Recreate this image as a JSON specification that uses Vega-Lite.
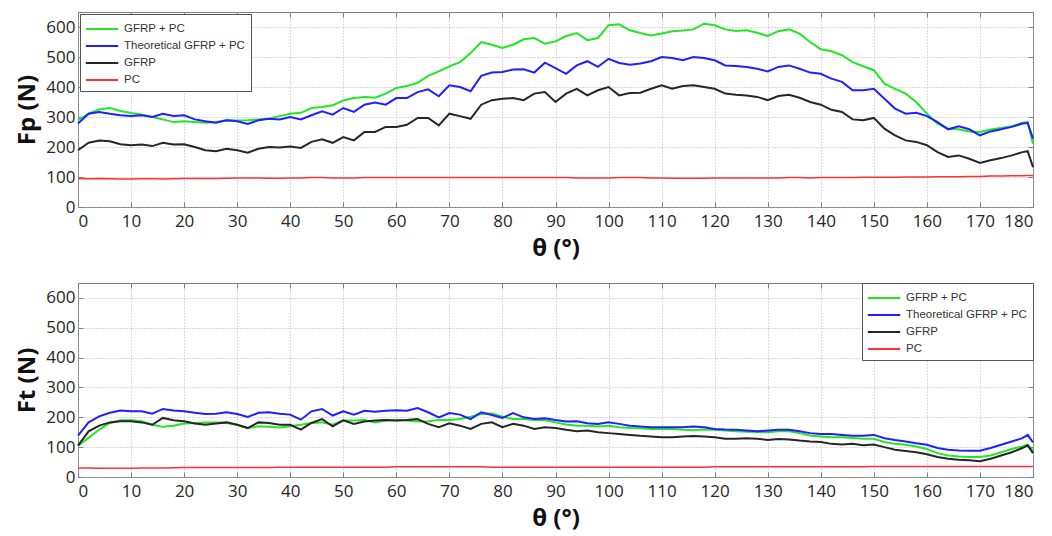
{
  "$schema": "https://vega.github.io/schema/vega-lite/v6.json",
  "background": "white",
  "padding": {"left": 15, "top": 11, "right": 10, "bottom": 2},
  "spacing": 21,
  "config": {
    "view": {"stroke": "#7f7f7f", "strokeWidth": 1},
    "axis": {
      "labelFont": "Open Sans", "labelFontSize": 17, "labelColor": "#262626",
      "titleFont": "Open Sans", "titleFontSize": 24, "titleFontWeight": "bold", "titleColor": "#111111",
      "gridColor": "#b4b4b4", "gridDash": [1, 2], "gridWidth": 1,
      "domain": false, "tickColor": "#7f7f7f", "tickSize": -5
    },
    "axisX": {"labelPadding": 11},
    "axisY": {"labelPadding": 8},
    "legend": {
      "strokeColor": "#555555", "fillColor": "white", "padding": 5,
      "symbolType": "M-1.8,0H1.8", "symbolSize": 324, "symbolStrokeWidth": 2, "symbolOffset": 7,
      "labelOffset": 12, "labelFont": "Liberation Sans", "labelFontSize": 11.5, "labelColor": "#333333",
      "rowPadding": 1, "title": null
    }
  },
  "datasets": {
    "top": [
      {"x":0,"g":290,"t":278,"b":189,"p":95},{"x":2,"g":311,"t":311,"b":214,"p":94},{"x":4,"g":325,"t":317,"b":222,"p":95},{"x":6,"g":330,"t":311,"b":219,"p":94},{"x":8,"g":320,"t":306,"b":209,"p":93},{"x":10,"g":313,"t":303,"b":206,"p":93},{"x":12,"g":308,"t":306,"b":208,"p":94},{"x":14,"g":300,"t":300,"b":203,"p":94},{"x":16,"g":292,"t":311,"b":214,"p":93},{"x":18,"g":283,"t":303,"b":208,"p":94},{"x":20,"g":286,"t":306,"b":209,"p":95},{"x":22,"g":283,"t":292,"b":200,"p":95},{"x":24,"g":281,"t":286,"b":189,"p":95},{"x":26,"g":283,"t":281,"b":186,"p":95},{"x":28,"g":289,"t":289,"b":194,"p":96},{"x":30,"g":288,"t":286,"b":189,"p":97},{"x":32,"g":289,"t":277,"b":181,"p":97},{"x":34,"g":292,"t":289,"b":194,"p":97},{"x":36,"g":294,"t":294,"b":200,"p":96},{"x":38,"g":303,"t":292,"b":198,"p":96},{"x":40,"g":311,"t":300,"b":202,"p":97},{"x":42,"g":314,"t":292,"b":197,"p":97},{"x":44,"g":330,"t":306,"b":217,"p":98},{"x":46,"g":333,"t":319,"b":226,"p":98},{"x":48,"g":339,"t":308,"b":214,"p":97},{"x":50,"g":355,"t":330,"b":233,"p":97},{"x":52,"g":363,"t":317,"b":222,"p":97},{"x":54,"g":367,"t":341,"b":250,"p":98},{"x":56,"g":364,"t":348,"b":250,"p":98},{"x":58,"g":378,"t":341,"b":267,"p":98},{"x":60,"g":397,"t":363,"b":267,"p":98},{"x":62,"g":403,"t":363,"b":274,"p":98},{"x":64,"g":414,"t":383,"b":297,"p":98},{"x":66,"g":437,"t":392,"b":297,"p":98},{"x":68,"g":452,"t":369,"b":272,"p":98},{"x":70,"g":469,"t":406,"b":311,"p":98},{"x":72,"g":483,"t":400,"b":303,"p":98},{"x":74,"g":513,"t":386,"b":294,"p":98},{"x":76,"g":550,"t":437,"b":341,"p":98},{"x":78,"g":541,"t":448,"b":356,"p":98},{"x":80,"g":530,"t":450,"b":361,"p":98},{"x":82,"g":541,"t":458,"b":363,"p":98},{"x":84,"g":559,"t":459,"b":356,"p":98},{"x":86,"g":563,"t":448,"b":378,"p":98},{"x":88,"g":544,"t":481,"b":383,"p":98},{"x":90,"g":552,"t":463,"b":350,"p":98},{"x":92,"g":570,"t":444,"b":378,"p":98},{"x":94,"g":580,"t":472,"b":394,"p":97},{"x":96,"g":556,"t":486,"b":372,"p":97},{"x":98,"g":563,"t":467,"b":389,"p":97},{"x":100,"g":606,"t":494,"b":400,"p":97},{"x":102,"g":609,"t":480,"b":372,"p":98},{"x":104,"g":589,"t":474,"b":380,"p":98},{"x":106,"g":580,"t":478,"b":381,"p":98},{"x":108,"g":572,"t":486,"b":394,"p":97},{"x":110,"g":578,"t":500,"b":406,"p":97},{"x":112,"g":586,"t":497,"b":394,"p":96},{"x":114,"g":588,"t":489,"b":403,"p":96},{"x":116,"g":592,"t":500,"b":406,"p":96},{"x":118,"g":611,"t":497,"b":400,"p":96},{"x":120,"g":606,"t":489,"b":394,"p":97},{"x":122,"g":592,"t":472,"b":378,"p":97},{"x":124,"g":587,"t":470,"b":374,"p":97},{"x":126,"g":589,"t":467,"b":372,"p":97},{"x":128,"g":581,"t":461,"b":367,"p":97},{"x":130,"g":570,"t":452,"b":356,"p":97},{"x":132,"g":586,"t":467,"b":370,"p":97},{"x":134,"g":592,"t":472,"b":374,"p":98},{"x":136,"g":578,"t":461,"b":364,"p":98},{"x":138,"g":550,"t":448,"b":350,"p":97},{"x":140,"g":526,"t":444,"b":341,"p":98},{"x":142,"g":519,"t":428,"b":324,"p":98},{"x":144,"g":506,"t":417,"b":317,"p":98},{"x":146,"g":483,"t":389,"b":292,"p":98},{"x":148,"g":469,"t":389,"b":289,"p":99},{"x":150,"g":456,"t":394,"b":297,"p":99},{"x":152,"g":411,"t":361,"b":261,"p":99},{"x":154,"g":394,"t":328,"b":239,"p":99},{"x":156,"g":378,"t":311,"b":222,"p":100},{"x":158,"g":350,"t":314,"b":217,"p":100},{"x":160,"g":311,"t":303,"b":206,"p":100},{"x":162,"g":278,"t":283,"b":183,"p":101},{"x":164,"g":261,"t":259,"b":167,"p":101},{"x":166,"g":259,"t":269,"b":172,"p":101},{"x":168,"g":252,"t":259,"b":161,"p":102},{"x":170,"g":250,"t":239,"b":147,"p":102},{"x":172,"g":258,"t":252,"b":156,"p":103},{"x":174,"g":263,"t":259,"b":163,"p":103},{"x":176,"g":269,"t":267,"b":172,"p":104},{"x":178,"g":281,"t":278,"b":183,"p":104},{"x":179,"g":283,"t":280,"b":186,"p":105},{"x":180,"g":211,"t":228,"b":133,"p":105}
    ],
    "bottom": [
      {"x":0,"g":105,"t":139,"b":105,"p":30},{"x":2,"g":131,"t":183,"b":153,"p":30},{"x":4,"g":159,"t":203,"b":172,"p":29},{"x":6,"g":181,"t":215,"b":183,"p":29},{"x":8,"g":190,"t":223,"b":187,"p":29},{"x":10,"g":190,"t":220,"b":187,"p":29},{"x":12,"g":187,"t":220,"b":183,"p":30},{"x":14,"g":175,"t":212,"b":175,"p":30},{"x":16,"g":168,"t":228,"b":198,"p":30},{"x":18,"g":172,"t":223,"b":190,"p":31},{"x":20,"g":179,"t":220,"b":187,"p":32},{"x":22,"g":181,"t":215,"b":179,"p":32},{"x":24,"g":183,"t":211,"b":175,"p":32},{"x":26,"g":183,"t":212,"b":179,"p":32},{"x":28,"g":181,"t":217,"b":183,"p":32},{"x":30,"g":175,"t":211,"b":175,"p":32},{"x":32,"g":164,"t":201,"b":164,"p":32},{"x":34,"g":170,"t":215,"b":183,"p":32},{"x":36,"g":168,"t":217,"b":181,"p":32},{"x":38,"g":166,"t":212,"b":175,"p":33},{"x":40,"g":170,"t":209,"b":175,"p":33},{"x":42,"g":175,"t":192,"b":159,"p":33},{"x":44,"g":181,"t":220,"b":181,"p":33},{"x":46,"g":183,"t":228,"b":194,"p":33},{"x":48,"g":175,"t":206,"b":170,"p":33},{"x":50,"g":189,"t":220,"b":190,"p":33},{"x":52,"g":189,"t":209,"b":178,"p":33},{"x":54,"g":191,"t":222,"b":186,"p":33},{"x":56,"g":183,"t":219,"b":189,"p":33},{"x":58,"g":189,"t":222,"b":191,"p":33},{"x":60,"g":191,"t":224,"b":189,"p":34},{"x":62,"g":189,"t":222,"b":191,"p":34},{"x":64,"g":186,"t":231,"b":194,"p":34},{"x":66,"g":187,"t":217,"b":178,"p":34},{"x":68,"g":191,"t":200,"b":167,"p":34},{"x":70,"g":191,"t":214,"b":180,"p":34},{"x":72,"g":194,"t":209,"b":172,"p":34},{"x":74,"g":202,"t":194,"b":161,"p":34},{"x":76,"g":211,"t":217,"b":178,"p":34},{"x":78,"g":213,"t":208,"b":183,"p":33},{"x":80,"g":202,"t":198,"b":167,"p":33},{"x":82,"g":194,"t":214,"b":178,"p":33},{"x":84,"g":194,"t":200,"b":172,"p":33},{"x":86,"g":191,"t":194,"b":161,"p":33},{"x":88,"g":191,"t":197,"b":167,"p":33},{"x":90,"g":183,"t":191,"b":164,"p":33},{"x":92,"g":176,"t":186,"b":158,"p":33},{"x":94,"g":172,"t":187,"b":153,"p":33},{"x":96,"g":172,"t":180,"b":156,"p":33},{"x":98,"g":169,"t":178,"b":150,"p":33},{"x":100,"g":172,"t":183,"b":147,"p":33},{"x":102,"g":167,"t":178,"b":144,"p":33},{"x":104,"g":164,"t":172,"b":141,"p":33},{"x":106,"g":163,"t":169,"b":138,"p":33},{"x":108,"g":161,"t":167,"b":136,"p":33},{"x":110,"g":161,"t":167,"b":133,"p":33},{"x":112,"g":161,"t":167,"b":133,"p":33},{"x":114,"g":158,"t":167,"b":136,"p":33},{"x":116,"g":157,"t":169,"b":137,"p":33},{"x":118,"g":159,"t":167,"b":136,"p":33},{"x":120,"g":158,"t":161,"b":133,"p":34},{"x":122,"g":156,"t":159,"b":128,"p":34},{"x":124,"g":153,"t":158,"b":128,"p":34},{"x":126,"g":152,"t":156,"b":130,"p":34},{"x":128,"g":151,"t":153,"b":128,"p":34},{"x":130,"g":150,"t":156,"b":124,"p":34},{"x":132,"g":153,"t":158,"b":127,"p":34},{"x":134,"g":153,"t":158,"b":126,"p":34},{"x":136,"g":147,"t":153,"b":122,"p":34},{"x":138,"g":139,"t":147,"b":119,"p":34},{"x":140,"g":136,"t":144,"b":117,"p":34},{"x":142,"g":133,"t":144,"b":111,"p":34},{"x":144,"g":133,"t":141,"b":109,"p":34},{"x":146,"g":131,"t":138,"b":111,"p":34},{"x":148,"g":128,"t":138,"b":106,"p":34},{"x":150,"g":128,"t":141,"b":109,"p":35},{"x":152,"g":117,"t":130,"b":100,"p":35},{"x":154,"g":111,"t":124,"b":91,"p":35},{"x":156,"g":108,"t":119,"b":87,"p":35},{"x":158,"g":102,"t":113,"b":83,"p":35},{"x":160,"g":94,"t":108,"b":76,"p":35},{"x":162,"g":80,"t":97,"b":67,"p":35},{"x":164,"g":72,"t":91,"b":61,"p":35},{"x":166,"g":69,"t":89,"b":58,"p":35},{"x":168,"g":67,"t":88,"b":56,"p":35},{"x":170,"g":67,"t":88,"b":53,"p":35},{"x":172,"g":72,"t":97,"b":61,"p":35},{"x":174,"g":83,"t":108,"b":72,"p":35},{"x":176,"g":94,"t":119,"b":83,"p":35},{"x":178,"g":102,"t":130,"b":97,"p":35},{"x":179,"g":108,"t":141,"b":106,"p":35},{"x":180,"g":89,"t":116,"b":80,"p":35}
    ]
  },
  "vconcat": [
    {
      "width": 955, "height": 195,
      "data": {"name": "top"},
      "transform": [{"fold": ["g", "t", "b", "p"], "as": ["series", "F"]}],
      "layer": [
        {
          "transform": [{"filter": "datum.series != 'p'"}],
          "mark": {"type": "line", "strokeWidth": 2},
          "encoding": {
            "x": {"field": "x", "type": "quantitative", "scale": {"domain": [0, 180], "nice": false},
                  "axis": {"values": [0,10,20,30,40,50,60,70,80,90,100,110,120,130,140,150,160,170,180], "title": "θ (°)", "titlePadding": 7}},
            "y": {"field": "F", "type": "quantitative", "scale": {"domain": [0, 650], "nice": false},
                  "axis": {"values": [0,100,200,300,400,500,600], "title": "Fp (N)", "titlePadding": 6}},
            "color": {"field": "series", "type": "nominal",
                      "scale": {"domain": ["g", "t", "b", "p"], "range": ["#22e622", "#1f1fff", "#262626", "#ff3030"]},
                      "legend": {"orient": "top-left", "offset": 2, "labelExpr": "{'g': 'GFRP + PC', 't': 'Theoretical GFRP + PC', 'b': 'GFRP', 'p': 'PC'}[datum.value]"}}
          }
        },
        {
          "transform": [{"filter": "datum.series == 'p'"}],
          "mark": {"type": "line", "strokeWidth": 1.5},
          "encoding": {
            "x": {"field": "x", "type": "quantitative", "scale": {"domain": [0, 180], "nice": false},
                  "axis": {"orient": "top", "values": [0,10,20,30,40,50,60,70,80,90,100,110,120,130,140,150,160,170,180], "labels": false, "grid": false, "title": null}},
            "y": {"field": "F", "type": "quantitative", "scale": {"domain": [0, 650], "nice": false},
                  "axis": {"orient": "right", "values": [0,100,200,300,400,500,600], "labels": false, "grid": false, "title": null}},
            "color": {"field": "series", "type": "nominal",
                      "scale": {"domain": ["g", "t", "b", "p"], "range": ["#22e622", "#1f1fff", "#262626", "#ff3030"]},
                      "legend": {"orient": "top-left", "offset": 2, "labelExpr": "{'g': 'GFRP + PC', 't': 'Theoretical GFRP + PC', 'b': 'GFRP', 'p': 'PC'}[datum.value]"}}
          }
        }
      ],
      "resolve": {"axis": {"x": "independent", "y": "independent"}}
    },
    {
      "width": 955, "height": 194,
      "data": {"name": "bottom"},
      "transform": [{"fold": ["g", "t", "b", "p"], "as": ["series", "F"]}],
      "layer": [
        {
          "transform": [{"filter": "datum.series != 'p'"}],
          "mark": {"type": "line", "strokeWidth": 2},
          "encoding": {
            "x": {"field": "x", "type": "quantitative", "scale": {"domain": [0, 180], "nice": false},
                  "axis": {"values": [0,10,20,30,40,50,60,70,80,90,100,110,120,130,140,150,160,170,180], "title": "θ (°)", "titlePadding": 7}},
            "y": {"field": "F", "type": "quantitative", "scale": {"domain": [0, 650], "nice": false},
                  "axis": {"values": [0,100,200,300,400,500,600], "title": "Ft (N)", "titlePadding": 6}},
            "color": {"field": "series", "type": "nominal",
                      "scale": {"domain": ["g", "t", "b", "p"], "range": ["#22e622", "#1f1fff", "#262626", "#ff3030"]},
                      "legend": {"orient": "top-right", "offset": 0, "labelExpr": "{'g': 'GFRP + PC', 't': 'Theoretical GFRP + PC', 'b': 'GFRP', 'p': 'PC'}[datum.value]"}}
          }
        },
        {
          "transform": [{"filter": "datum.series == 'p'"}],
          "mark": {"type": "line", "strokeWidth": 1.5},
          "encoding": {
            "x": {"field": "x", "type": "quantitative", "scale": {"domain": [0, 180], "nice": false},
                  "axis": {"orient": "top", "values": [0,10,20,30,40,50,60,70,80,90,100,110,120,130,140,150,160,170,180], "labels": false, "grid": false, "title": null}},
            "y": {"field": "F", "type": "quantitative", "scale": {"domain": [0, 650], "nice": false},
                  "axis": {"orient": "right", "values": [0,100,200,300,400,500,600], "labels": false, "grid": false, "title": null}},
            "color": {"field": "series", "type": "nominal",
                      "scale": {"domain": ["g", "t", "b", "p"], "range": ["#22e622", "#1f1fff", "#262626", "#ff3030"]},
                      "legend": {"orient": "top-right", "offset": 0, "labelExpr": "{'g': 'GFRP + PC', 't': 'Theoretical GFRP + PC', 'b': 'GFRP', 'p': 'PC'}[datum.value]"}}
          }
        }
      ],
      "resolve": {"axis": {"x": "independent", "y": "independent"}}
    }
  ]
}
